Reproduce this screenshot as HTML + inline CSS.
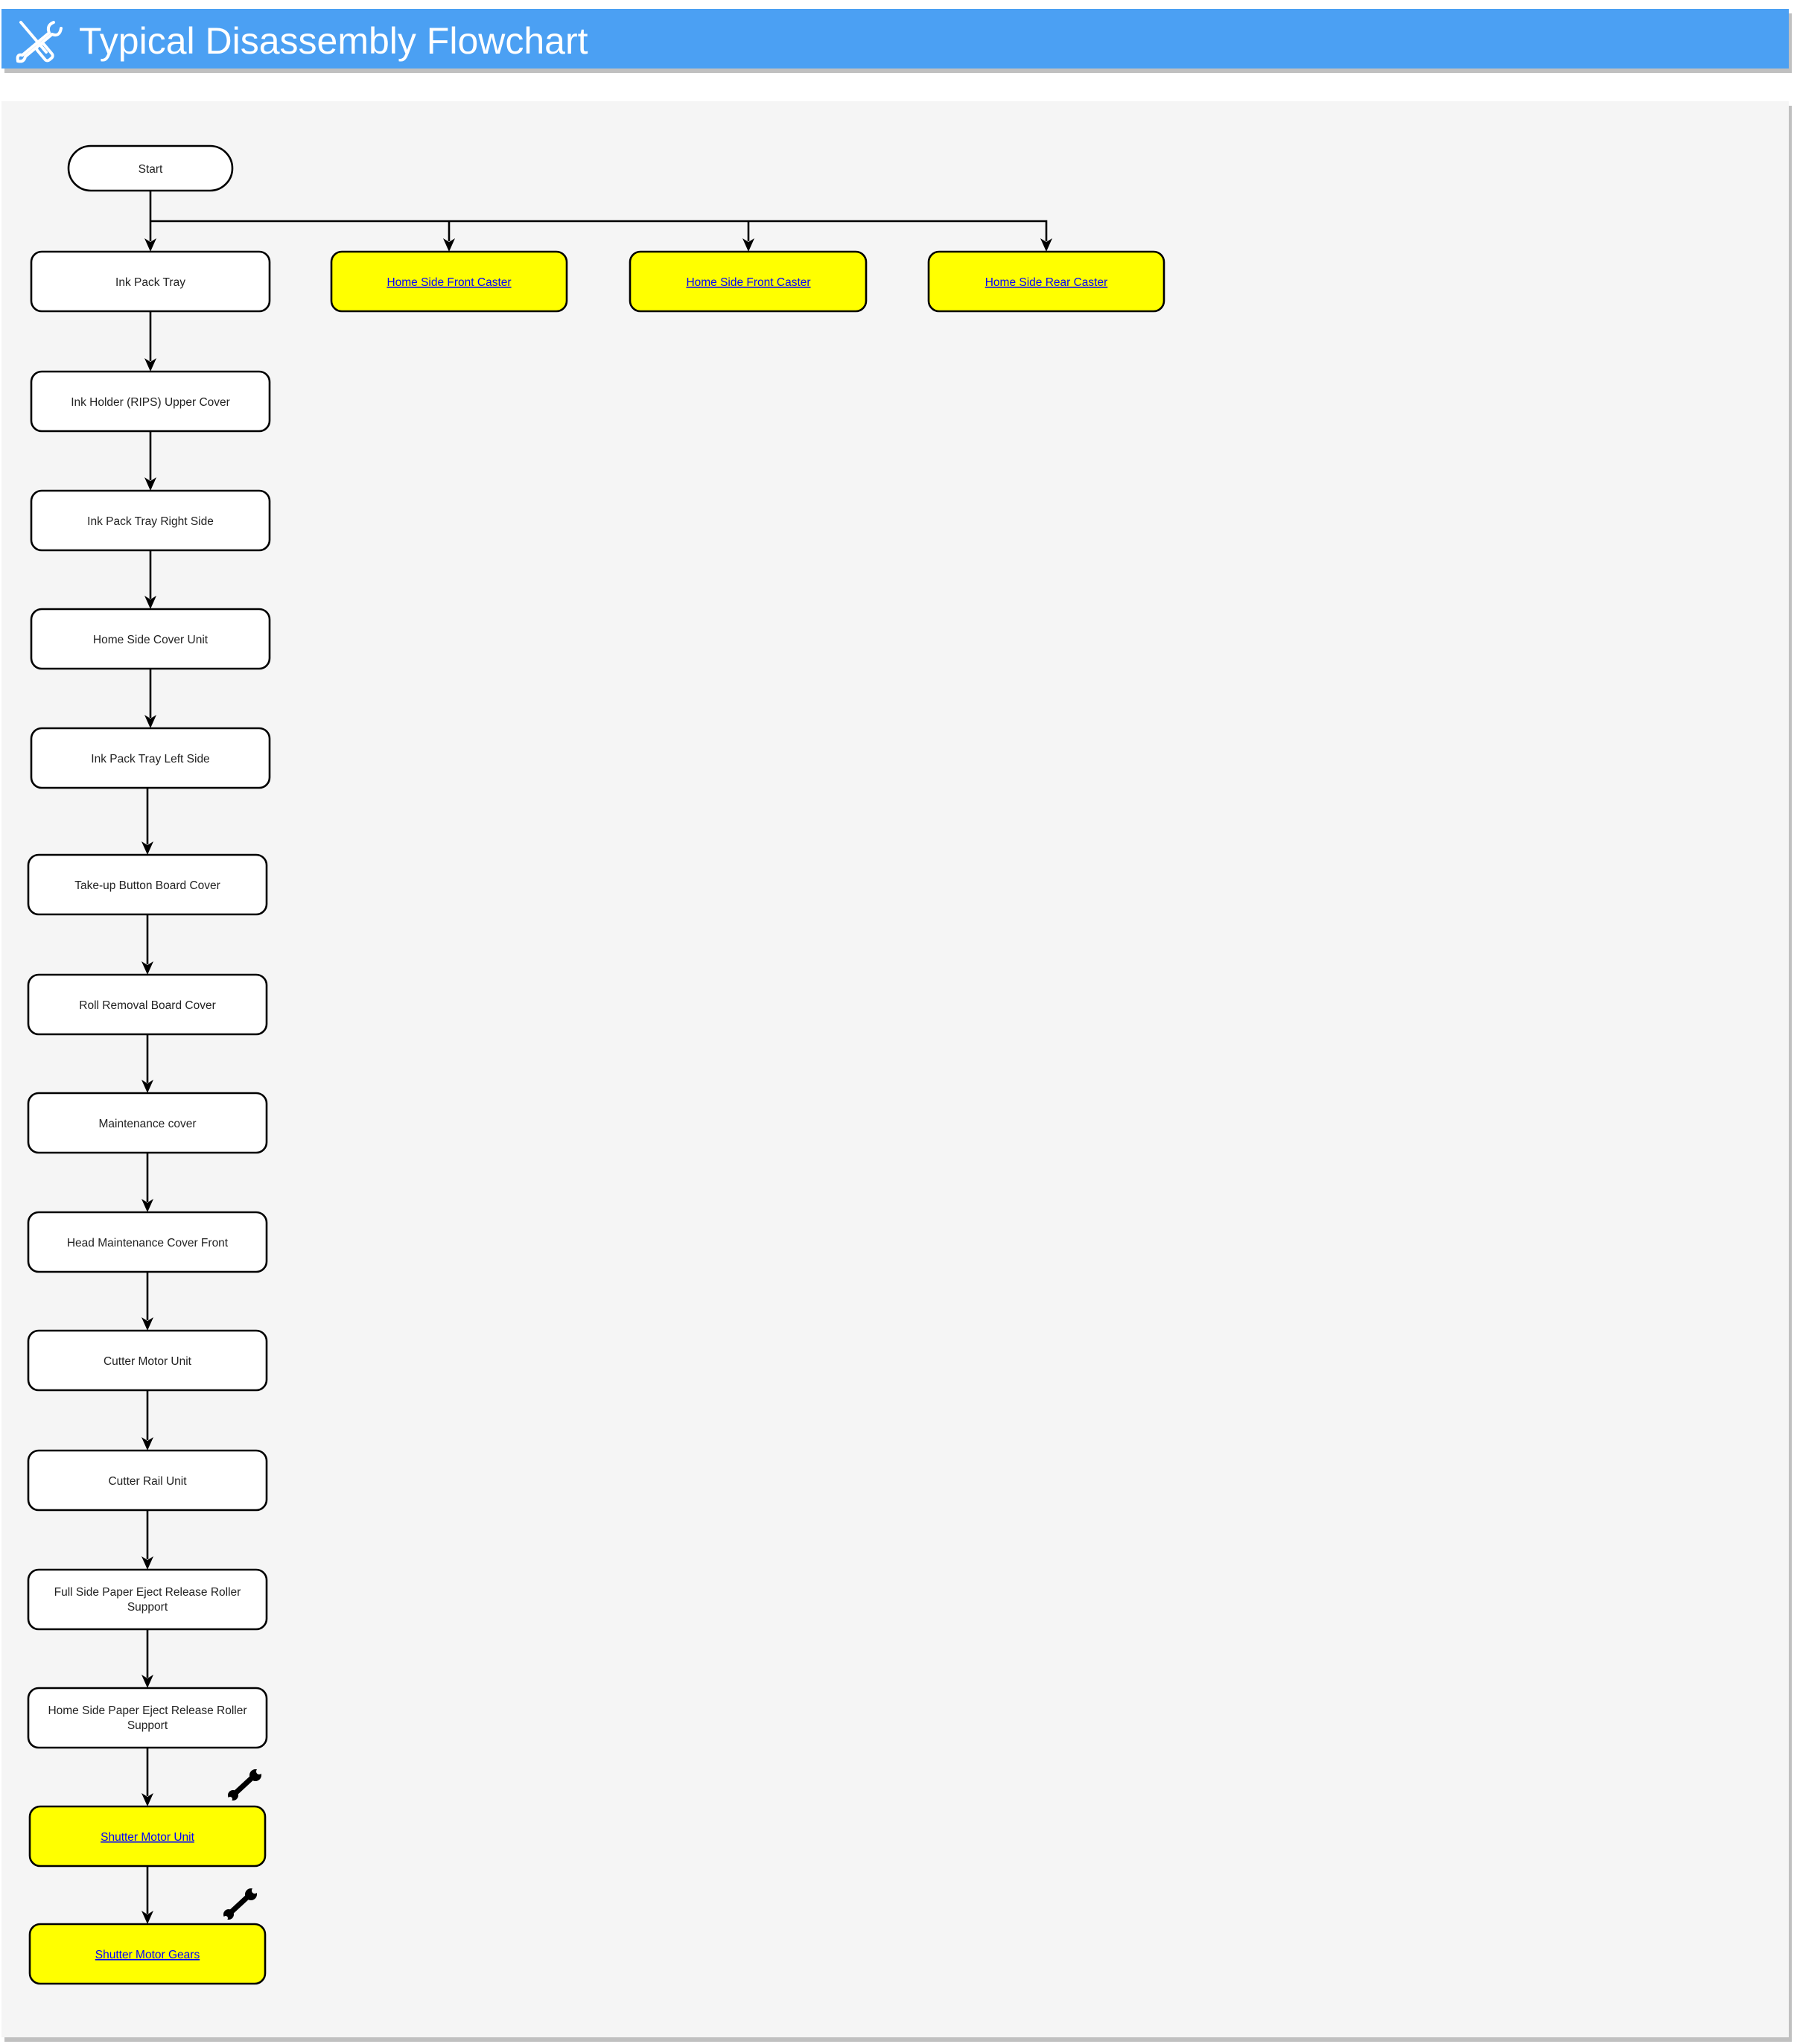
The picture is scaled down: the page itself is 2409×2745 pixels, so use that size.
<!DOCTYPE html>
<html><head><meta charset="utf-8"><style>
html,body{margin:0;padding:0;background:#fff;width:2409px;height:2745px;overflow:hidden}
svg{display:block}
text{font-family:"Liberation Sans",Arial,sans-serif}
</style></head><body>
<svg width="2409" height="2745" xmlns="http://www.w3.org/2000/svg">
<!-- header -->
<rect x="6" y="18" width="2400" height="80" fill="#c0c0c0"/>
<rect x="2" y="12" width="2400" height="80" fill="#4ba0f3"/>
<g stroke="#fff" fill="none" stroke-width="4" stroke-linecap="round">
<path d="M28 30 L62 70"/>
<rect x="54" y="58" width="12" height="24" rx="4" transform="rotate(-40 60 70)"/>
<path d="M72 30 q-10 4 -6 14 L30 74 q-8 -2 -6 8 q8 2 10 -6 L70 46 q10 4 12 -8"/>
</g>
<text x="106" y="72" font-size="50" fill="#fff">Typical Disassembly Flowchart</text>
<!-- panel -->
<rect x="6" y="142" width="2400" height="2600" fill="#c0c0c0"/>
<rect x="2" y="136" width="2400" height="2600" fill="#f5f5f5"/>
<g stroke="#000" stroke-width="2.6" fill="none">
<rect x="92" y="196" width="220" height="60" rx="30" fill="#fff"/>
<path d="M202 256 V324"/>
<path d="M202 297 H1405 V324"/>
<path d="M603 297 V324"/>
<path d="M1005 297 V324"/>
</g>
<g fill="#000">
<path d="M194 320 L202 338 L210 320 L202 325Z"/>
<path d="M595 320 L603 338 L611 320 L603 325Z"/>
<path d="M997 320 L1005 338 L1013 320 L1005 325Z"/>
<path d="M1397 320 L1405 338 L1413 320 L1405 325Z"/>
</g>
<text x="202" y="232" font-size="15.5" text-anchor="middle" fill="#222">Start</text>
<g font-size="15.5" text-anchor="middle">
<rect x="445" y="338" width="316" height="80" rx="14" fill="#ff0" stroke="#000" stroke-width="2.6"/>
<text x="603" y="384" fill="#00f" text-decoration="underline">Home Side Front Caster</text>
<rect x="846" y="338" width="317" height="80" rx="14" fill="#ff0" stroke="#000" stroke-width="2.6"/>
<text x="1005" y="384" fill="#00f" text-decoration="underline">Home Side Front Caster</text>
<rect x="1247" y="338" width="316" height="80" rx="14" fill="#ff0" stroke="#000" stroke-width="2.6"/>
<text x="1405" y="384" fill="#00f" text-decoration="underline">Home Side Rear Caster</text>
</g>
<!-- column -->
<g font-size="15.5" text-anchor="middle" fill="#222">
<g stroke="#000" stroke-width="2.6">
<path d="M202 418 V485 M202 579 V645 M202 739 V804 M202 898 V964 M198 1058 V1134 M198 1228 V1295 M198 1389 V1454 M198 1548 V1614 M198 1708 V1773 M198 1867 V1934 M198 2028 V2094 M198 2188 V2253 M198 2347 V2412 M198 2506 V2570"/>
</g>
<g fill="#000">
<path d="M194 481 L202 499 L210 481 L202 486Z"/>
<path d="M194 641 L202 659 L210 641 L202 646Z"/>
<path d="M194 800 L202 818 L210 800 L202 805Z"/>
<path d="M194 960 L202 978 L210 960 L202 965Z"/>
<path d="M190 1130 L198 1148 L206 1130 L198 1135Z"/>
<path d="M190 1291 L198 1309 L206 1291 L198 1296Z"/>
<path d="M190 1450 L198 1468 L206 1450 L198 1455Z"/>
<path d="M190 1610 L198 1628 L206 1610 L198 1615Z"/>
<path d="M190 1769 L198 1787 L206 1769 L198 1774Z"/>
<path d="M190 1930 L198 1948 L206 1930 L198 1935Z"/>
<path d="M190 2090 L198 2108 L206 2090 L198 2095Z"/>
<path d="M190 2249 L198 2267 L206 2249 L198 2254Z"/>
<path d="M190 2408 L198 2426 L206 2408 L198 2413Z"/>
<path d="M190 2566 L198 2584 L206 2566 L198 2571Z"/>
</g>
<g fill="#fff" stroke="#000" stroke-width="2.6">
<rect x="42" y="338" width="320" height="80" rx="14"/>
<rect x="42" y="499" width="320" height="80" rx="14"/>
<rect x="42" y="659" width="320" height="80" rx="14"/>
<rect x="42" y="818" width="320" height="80" rx="14"/>
<rect x="42" y="978" width="320" height="80" rx="14"/>
<rect x="38" y="1148" width="320" height="80" rx="14"/>
<rect x="38" y="1309" width="320" height="80" rx="14"/>
<rect x="38" y="1468" width="320" height="80" rx="14"/>
<rect x="38" y="1628" width="320" height="80" rx="14"/>
<rect x="38" y="1787" width="320" height="80" rx="14"/>
<rect x="38" y="1948" width="320" height="80" rx="14"/>
<rect x="38" y="2108" width="320" height="80" rx="14"/>
<rect x="38" y="2267" width="320" height="80" rx="14"/>
<rect x="40" y="2426" width="316" height="80" rx="14" fill="#ff0"/>
<rect x="40" y="2584" width="316" height="80" rx="14" fill="#ff0"/>
</g>
<text x="202" y="384">Ink Pack Tray</text>
<text x="202" y="545">Ink Holder (RIPS) Upper Cover</text>
<text x="202" y="705">Ink Pack Tray Right Side</text>
<text x="202" y="864">Home Side Cover Unit</text>
<text x="202" y="1024">Ink Pack Tray Left Side</text>
<text x="198" y="1194">Take-up Button Board Cover</text>
<text x="198" y="1355">Roll Removal Board Cover</text>
<text x="198" y="1514">Maintenance cover</text>
<text x="198" y="1674">Head Maintenance Cover Front</text>
<text x="198" y="1833">Cutter Motor Unit</text>
<text x="198" y="1994">Cutter Rail Unit</text>
<text x="198" y="2143">Full Side Paper Eject Release Roller</text>
<text x="198" y="2163">Support</text>
<text x="198" y="2302">Home Side Paper Eject Release Roller</text>
<text x="198" y="2322">Support</text>
<text x="198" y="2472" fill="#00f" text-decoration="underline">Shutter Motor Unit</text>
<text x="198" y="2630" fill="#00f" text-decoration="underline">Shutter Motor Gears</text>
</g>
<!-- wrenches -->
<g stroke="#000" stroke-width="7" stroke-linecap="round" fill="none">
<path d="M314 2410 L340 2386"/>
<path d="M308 2570 L334 2546"/>
</g>
<g fill="#000">
<circle cx="343" cy="2384" r="8"/><circle cx="313" cy="2411" r="7"/>
<circle cx="337" cy="2544" r="8"/><circle cx="307" cy="2571" r="7"/>
</g>
<g fill="#f5f5f5">
<circle cx="348" cy="2379" r="4"/><circle cx="309" cy="2416" r="3"/>
<circle cx="342" cy="2539" r="4"/><circle cx="303" cy="2576" r="3"/>
</g>
</svg>
</body></html>
